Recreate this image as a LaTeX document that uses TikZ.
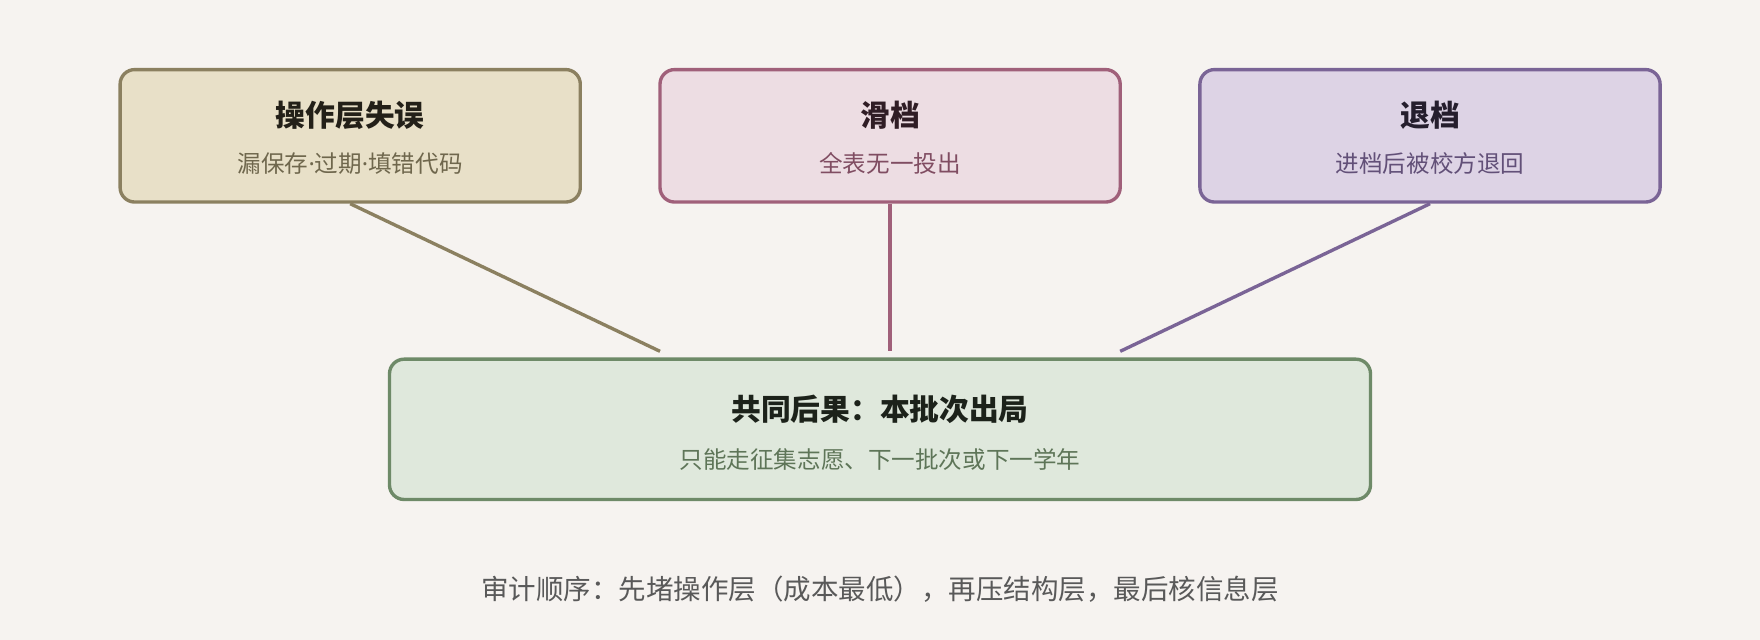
\documentclass[tikz,border=0pt]{standalone}
\usepackage{fontspec}
\setmainfont{Noto Sans CJK SC}
\newfontfamily\latinfont{Noto Sans}
\usetikzlibrary{positioning}
\definecolor{bgc}{HTML}{F6F3F0}
\definecolor{opfill}{HTML}{E8E0C8}
\definecolor{opdraw}{HTML}{8B8060}
\definecolor{slfill}{HTML}{EDDDE3}
\definecolor{sldraw}{HTML}{A0607A}
\definecolor{rtfill}{HTML}{DDD3E5}
\definecolor{rtdraw}{HTML}{7A6496}
\definecolor{resfill}{HTML}{DFE8DC}
\definecolor{resdraw}{HTML}{6E8A68}
\newcommand{\mdot}{{\latinfont ·}}
\tikzset{
  x=1pt, y=1pt,
  my box/.style={
    draw, line width=3pt, rounded corners=13pt,
    minimum width=410pt, minimum height=118pt
  },
  my title/.style={font=\fontsize{26.5}{30}\selectfont\bfseries},
  my sub/.style={font=\fontsize{21}{25}\selectfont},
  my link/.style={line width=3pt}
}
\begin{document}
\begin{tikzpicture}
\fill[bgc] (0,0) rectangle (1568,570);
\useasboundingbox (0,0) rectangle (1568,570);
% top row
\node[my box, fill=opfill, draw=opdraw] (op) at (312,449) {};
\node[my box, fill=slfill, draw=sldraw] (sl) at (793,449) {};
\node[my box, fill=rtfill, draw=rtdraw] (rt) at (1274,449) {};
\node[my box, fill=resfill, draw=resdraw, minimum width=874pt, minimum height=125pt] (res) at (784,187.5) {};
% texts
\node[my title, text=black!75!opdraw] (opT) at (312,467) {操作层失误};
\node[my sub, text=opdraw!80!black] (opS) at (312,424) {漏保存\mdot 过期\mdot 填错代码};
\node[my title, text=black!70!sldraw] (slT) at (793,467) {滑档};
\node[my sub, text=sldraw!80!black] (slS) at (793,424) {全表无一投出};
\node[my title, text=black!70!rtdraw] (rtT) at (1274,467) {退档};
\node[my sub, text=rtdraw!80!black] (rtS) at (1274,424) {进档后被校方退回};
\node[my title, text=black!75!resdraw] (resT) at (784,205) {共同后果：本批次出局};
\node[my sub, text=resdraw!85!black] (resS) at (784,161) {只能走征集志愿、下一批次或下一学年};
\node[font=\fontsize{24.5}{28}\selectfont, text=black!65] (note) at (784,45)
  {审计顺序：先堵操作层（成本最低），再压结构层，最后核信息层};
% links
\coordinate (opEnd) at (588,257);
\coordinate (slEnd) at (793,257);
\coordinate (rtEnd) at (998,257);
\draw[my link, opdraw] (op.south) -- (opEnd);
\draw[my link, sldraw] (sl.south) -- (slEnd);
\draw[my link, rtdraw] (rt.south) -- (rtEnd);
\end{tikzpicture}
\end{document}
